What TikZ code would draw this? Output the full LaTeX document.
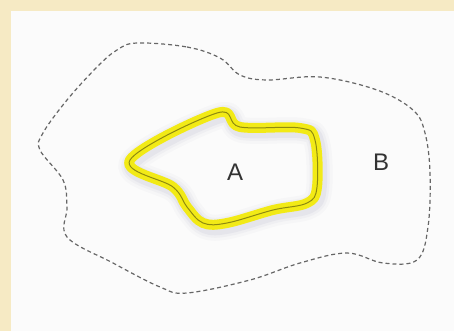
\documentclass[tikz,border=0pt]{standalone}
\usepackage{fontspec}
\setmainfont{Liberation Sans}
\definecolor{cream}{HTML}{F6EAC4}
\definecolor{paper}{HTML}{FBFBFB}
\definecolor{hilite}{HTML}{F2EA16}
\definecolor{hiliteline}{HTML}{8E8A10}
\definecolor{glow}{HTML}{8A8AA8}

\begin{document}
\begin{tikzpicture}[
  x=1pt,y=-1pt,
  boundary/.style={draw=black!60,line width=1.2pt,dash pattern=on 4pt off 3pt},
  halo/.style={draw=glow,line join=round},
  marker/.style={draw=hilite,line width=10pt,line join=round},
  label/.style={text=black!80,font=\fontsize{24}{24}\selectfont,inner sep=0pt}
]
  \useasboundingbox (0,0) rectangle (454,331);
  \fill[cream] (0,0) rectangle (454,331);
  \fill[paper] (11,11) rectangle (454,331);

  % outer region B
  \draw[boundary] plot[smooth cycle,tension=0.6] coordinates {
    (137,43) (187,47) (220,58) (240,75) (267,80) (320,77) (377,90)
    (413,110) (425,133) (430,173) (428,227) (417,260) (383,263)
    (347,253) (300,263) (250,280) (187,293) (160,287) (113,263)
    (67,237) (67,207) (63,180) (40,150) (43,133) (67,100) (97,67) (117,50)};

  % highlighted region A
  \foreach \w/\o in {26/0.04,20/0.06,15/0.09}
    \draw[halo,line width=\w pt,opacity=\o,xshift=2pt,yshift=-3pt]
      plot[smooth cycle,tension=0.6] coordinates {
        (130,160) (217,113) (240,127) (300,128) (315,140) (317,187)
        (307,203) (273,210) (227,223) (203,223) (187,207) (173,187)};
  \draw[marker] plot[smooth cycle,tension=0.6] coordinates {
    (130,160) (217,113) (240,127) (300,128) (315,140) (317,187)
    (307,203) (273,210) (227,223) (203,223) (187,207) (173,187)};
  \draw[hiliteline,line width=1pt,line join=round] plot[smooth cycle,tension=0.6] coordinates {
    (130,160) (217,113) (240,127) (300,128) (315,140) (317,187)
    (307,203) (273,210) (227,223) (203,223) (187,207) (173,187)};

  \node[label] (A) at (235,172) {A};
  \node[label] (B) at (381,162) {B};
\end{tikzpicture}
\end{document}
